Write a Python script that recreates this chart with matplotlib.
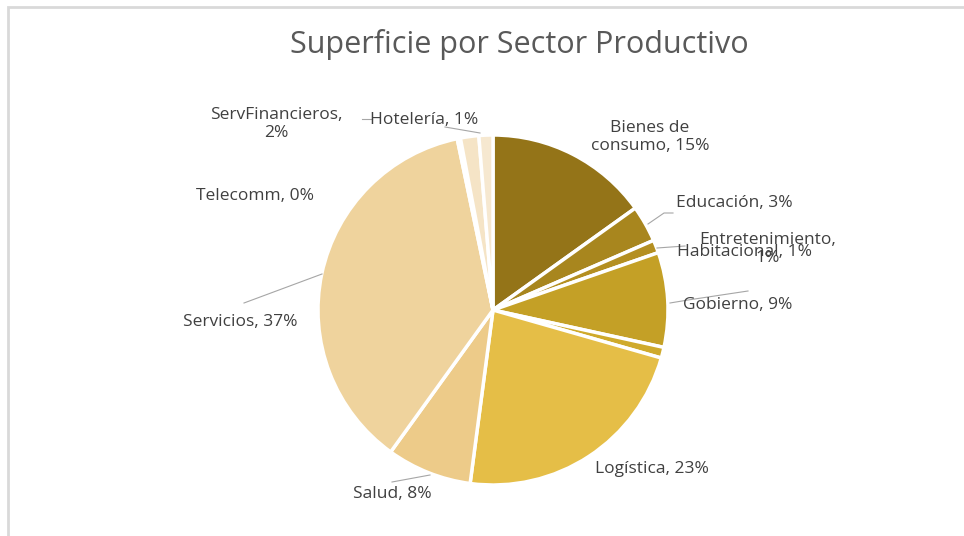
import numpy as np
import matplotlib.pyplot as plt
from matplotlib.patches import Rectangle

# Datos (porcentaje de superficie por sector)
sectores = ['Bienes de consumo', 'Educación', 'Entretenimiento', 'Gobierno',
            'Habitacional', 'Logística', 'Salud', 'Servicios', 'Telecomm',
            'ServFinancieros', 'Hotelería']
valores = [15.2, 3.4, 1.2, 8.8, 1.0, 22.8, 7.9, 37.0, 0.3, 1.7, 1.3]
colores = ['#947418', '#A8861E', '#B48F21', '#C4A026', '#CFAA2C', '#E5BE47',
           '#EDCB89', '#EFD39D', '#F2DCB2', '#F5E4C6', '#F6E8D0']

W, H = 964, 536
fig = plt.figure(figsize=(W / 100, H / 100), dpi=100)
ax = fig.add_axes([0, 0, 1, 1])

def py(y):
    # coordenada en píxeles (desde arriba) -> datos
    return H - y

# marco del gráfico
fig.patches.append(Rectangle((8 / W, -0.1), 1.2, (H - 7) / H + 0.1, transform=fig.transFigure,
                             fill=False, edgecolor='#D9D9D9', lw=2))

ax.pie(valores, colors=colores, startangle=90, counterclock=False,
       center=(493, py(310)), radius=175, frame=True,
       wedgeprops=dict(edgecolor='white', linewidth=2.5))
ax.set_xlim(0, W)
ax.set_ylim(0, H)
ax.axis('off')

ax.text(519, py(45), 'Superficie por Sector Productivo', ha='center', va='center',
        fontsize=22, color='#595959', family='Open Sans')

total = sum(valores)
etiquetas = [f'{s}, {round(v / total * 100):.0f}%' for s, v in zip(sectores, valores)]
etiquetas[0] = 'Bienes de\nconsumo, ' + etiquetas[0].split(', ')[1]
etiquetas[2] = 'Entretenimiento,\n' + etiquetas[2].split(', ')[1]
etiquetas[9] = 'ServFinancieros,\n' + etiquetas[9].split(', ')[1]

# posiciones de las etiquetas (x, y en píxeles) y líneas guía
pos = [(650, 137, 'center'), (676, 203, 'left'), (768, 249, 'center'),
       (683, 305, 'left'), (677, 252, 'left'), (652, 469, 'center'),
       (392, 494, 'center'), (240, 322, 'center'), (255, 196, 'center'),
       (276, 124, 'center'), (424, 120, 'center')]
guias = [None, [(648, 224), (664, 213), (673, 213)], [(657, 248), (685, 246)],
         [(670, 303), (688, 300), (748, 291)], None, None,
         [(430, 475), (392, 482)], [(322, 274), (244, 303)], None,
         [(362, 119), (372, 119)], [(480, 133), (445, 127)]]

for lab, (x, y, ha), g in zip(etiquetas, pos, guias):
    ax.text(x, py(y), lab, ha=ha, va='center', fontsize=12.5, color='#404040',
            family='Open Sans', linespacing=1.2)
    if g:
        ax.plot([p[0] for p in g], [py(p[1]) for p in g], color='#A6A6A6', lw=0.8)

fig.savefig('out.png', dpi=100)
